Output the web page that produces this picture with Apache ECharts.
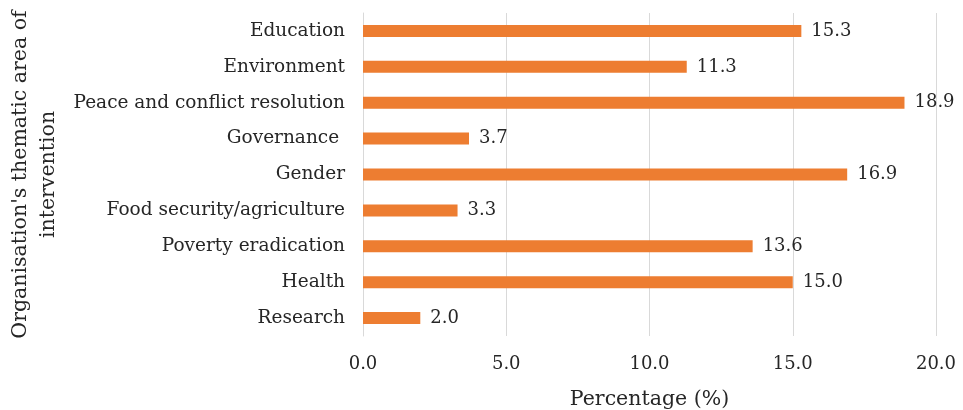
<!DOCTYPE html>
<html>
<head>
<meta charset="utf-8">
<script src="https://cdn.jsdelivr.net/npm/echarts@6/dist/echarts.min.js"></script>
<style>
  html, body { margin: 0; padding: 0; background: #fff; }
  #chart { width: 963px; height: 410px; }
</style>
</head>
<body>
<div id="chart"></div>
<script>
// categories listed bottom to top (ECharts category axis starts at the bottom)
const categories = [
  'Research',
  'Health',
  'Poverty eradication',
  'Food security/agriculture',
  'Gender',
  'Governance ',
  'Peace and conflict resolution',
  'Environment',
  'Education'
];
const percentages = [2.0, 15.0, 13.6, 3.3, 16.9, 3.7, 18.9, 11.3, 15.3];
const xTicks = [0, 5, 10, 15, 20];

const font = '"DejaVu Serif", "Liberation Serif", serif';
const textColor = '#262626';

const chart = echarts.init(document.getElementById('chart'));
chart.setOption({
  animation: false,
  textStyle: { fontFamily: font },
  grid: { left: 363, right: 27, top: 13, bottom: 74, containLabel: false, outerBoundsMode: 'none' },
  xAxis: {
    type: 'value',
    min: xTicks[0],
    max: xTicks[xTicks.length - 1],
    interval: 5,
    name: 'Percentage (%)',
    nameLocation: 'middle',
    nameGap: 53,
    nameTextStyle: { fontFamily: font, fontSize: 20.5, color: textColor },
    axisLine: { show: false },
    axisTick: { show: false },
    axisLabel: {
      margin: 19,
      fontFamily: font,
      fontSize: 18,
      color: textColor,
      formatter: v => v.toFixed(1)
    },
    splitLine: { lineStyle: { color: '#d9d9d9', width: 1 } }
  },
  yAxis: {
    type: 'category',
    data: categories,
    name: "Organisation's thematic area of\nintervention",
    nameLocation: 'middle',
    nameRotate: 90,
    nameGap: 296,
    nameTextStyle: { fontFamily: font, fontSize: 20.5, color: textColor, lineHeight: 28 },
    axisLine: { show: true, lineStyle: { color: '#d9d9d9' } },
    axisTick: { show: false },
    axisLabel: { margin: 18, fontFamily: font, fontSize: 18.5, color: textColor },
    splitLine: { show: false }
  },
  series: [{
    type: 'bar',
    data: percentages,
    barWidth: 12,
    itemStyle: { color: '#ED7D31' },
    label: {
      show: true,
      position: 'right',
      distance: 10,
      fontFamily: font,
      fontSize: 18,
      color: textColor,
      formatter: p => p.value.toFixed(1)
    }
  }]
});
</script>
</body>
</html>
